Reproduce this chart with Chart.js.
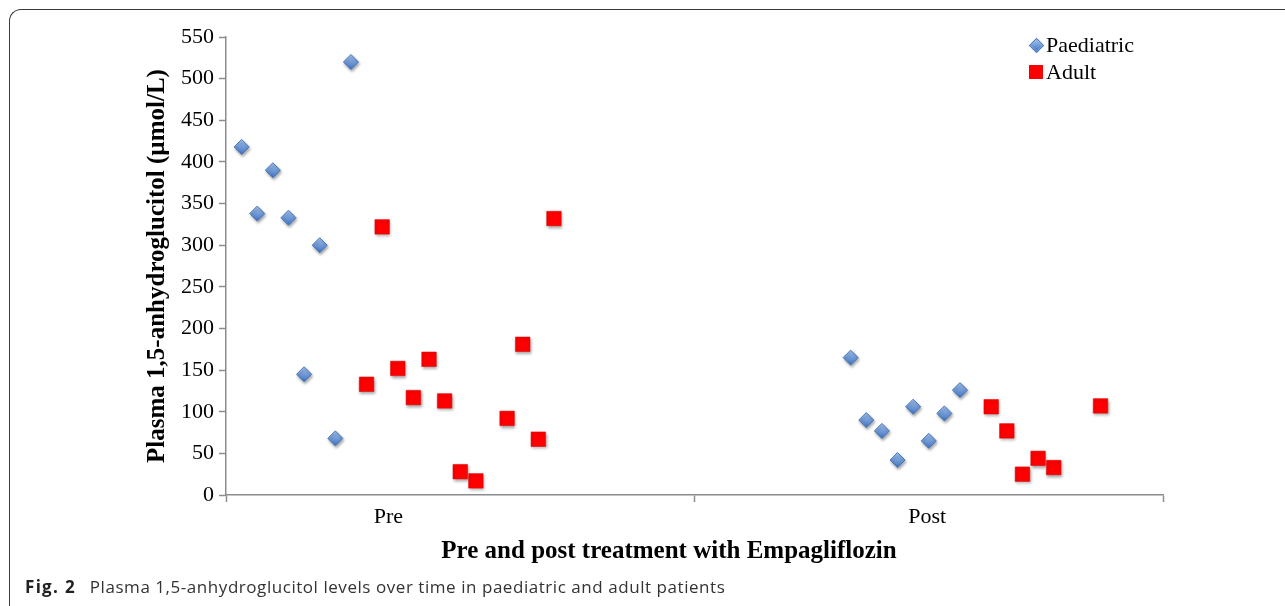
<!DOCTYPE html>
<html>
<head>
<meta charset="utf-8">
<script src="https://cdn.jsdelivr.net/npm/chart.js@4.4.0/dist/chart.umd.min.js"></script>
<style>
    body { margin: 0; background: #fff; overflow: hidden; }
    #wrap { position: relative; width: 1285px; height: 606px; overflow: hidden; }
    #frame {
        position: absolute; left: 9px; top: 9px; width: 1300px; height: 620px;
        border-top: 1px solid #3a3a3a; border-left: 1px solid #3a3a3a;
        border-top-left-radius: 12px;
    }
    #chart { position: absolute; left: 0; top: 0; }
    .serif { font-family: "Liberation Serif", "Times New Roman", serif; color: #000; }
    #xTitle {
        position: absolute; left: 669px; top: 535px; transform: translateX(-50%);
        font-size: 25px; font-weight: bold; line-height: 30px; white-space: nowrap;
    }
    .legend-text { position: absolute; left: 1046px; font-size: 22px; line-height: 26px; white-space: nowrap; }
    .legend-diamond {
        position: absolute; left: 1031px; top: 40px; width: 9px; height: 9px;
        transform: rotate(45deg);
        background: linear-gradient(135deg, #a3c4f0, #3f74c0);
        border: 1px solid #4677bf;
    }
    .legend-square { position: absolute; left: 1029px; top: 65px; width: 14px; height: 14px; background: #f00; }
    #caption {
        position: absolute; left: 25px; top: 576px; font-family: "Open Sans", sans-serif;
        font-size: 17px; letter-spacing: 0.55px; line-height: 22px; color: #333; white-space: nowrap;
    }
    #caption b { color: #222; letter-spacing: 1.3px; margin-right: 4px; }
</style>
</head>
<body>
<div id="wrap">
    <div id="frame"></div>
    <canvas id="chart" width="1285" height="606"></canvas>
    <div class="legend-diamond"></div>
    <div class="legend-text serif" style="top: 32px;">Paediatric</div>
    <div class="legend-square"></div>
    <div class="legend-text serif" style="top: 59px;">Adult</div>
    <div id="xTitle" class="serif">Pre and post treatment with Empagliflozin</div>
    <div id="caption"><b>Fig. 2</b>&nbsp; Plasma 1,5-anhydroglucitol levels over time in paediatric and adult patients</div>
</div>
<script>
// Data (x = patient slot on the axis, y = µmol/L)
const categories = ['Pre', 'Post'];
const categoryAt = [10.4, 44.9];
const sectionBounds = [0, 30, 60];
const yTicks = [0, 50, 100, 150, 200, 250, 300, 350, 400, 450, 500, 550];

const paedX = [1, 2, 3, 4, 5, 6, 7, 8, 40, 41, 42, 43, 44, 45, 46, 47];
const paedY = [418, 338, 390, 333, 145, 300, 68, 520, 165, 90, 77, 42, 106, 65, 98, 126];

const adultX = [9, 10, 11, 12, 13, 14, 15, 16, 18, 19, 20, 21, 49, 50, 51, 52, 53, 56];
const adultY = [133, 322, 152, 117, 163, 113, 28, 17, 92, 181, 67, 332, 106, 77, 25, 44, 33, 107];

const axisGrey = '#8c8c8c';
const serif = 'Liberation Serif';

const xTickValues = [...sectionBounds, ...categoryAt].sort((a, b) => a - b);

function labelFor(value) {
    const idx = categoryAt.findIndex(v => Math.abs(v - value) < 1e-6);
    return idx >= 0 ? categories[idx] : '';
}

// Blue diamonds get a light-to-dark vertical gradient
function diamondFill(ctx) {
    const chart = ctx.chart;
    const yScale = chart.scales && chart.scales.y;
    if (!ctx.raw || !yScale) return '#6d9de0';
    const yPix = yScale.getPixelForValue(ctx.raw.y);
    if (!isFinite(yPix)) return '#6d9de0';
    const g = chart.ctx.createLinearGradient(0, yPix - 8, 0, yPix + 8);
    g.addColorStop(0, '#a9c8f2');
    g.addColorStop(1, '#3c70bd');
    return g;
}

const markerShadow = {
    id: 'markerShadow',
    beforeDatasetsDraw(chart) {
        const c = chart.ctx;
        c.save();
        c.shadowColor = 'rgba(0, 0, 0, 0.35)';
        c.shadowBlur = 3;
        c.shadowOffsetX = 1;
        c.shadowOffsetY = 2;
    },
    afterDatasetsDraw(chart) {
        chart.ctx.restore();
    }
};

new Chart(document.getElementById('chart'), {
    type: 'scatter',
    data: {
        datasets: [{
            label: 'Paediatric',
            data: paedX.map((x, i) => ({ x, y: paedY[i] })),
            pointStyle: 'rectRot',
            pointRadius: 7.5,
            pointHoverRadius: 7.5,
            backgroundColor: diamondFill,
            borderColor: '#4677bf',
            borderWidth: 1
        }, {
            label: 'Adult',
            data: adultX.map((x, i) => ({ x, y: adultY[i] })),
            pointStyle: 'rect',
            pointRadius: 10.3,
            pointHoverRadius: 10.3,
            backgroundColor: '#ff0000',
            borderColor: '#e00000',
            borderWidth: 0.5
        }]
    },
    options: {
        responsive: false,
        animation: false,
        devicePixelRatio: 1,
        layout: {
            padding: { top: 37, right: 122, left: 0, bottom: 0 }
        },
        plugins: {
            legend: { display: false },
            tooltip: { enabled: false }
        },
        scales: {
            x: {
                type: 'linear',
                min: sectionBounds[0],
                max: sectionBounds[sectionBounds.length - 1],
                afterBuildTicks: scale => {
                    scale.ticks = xTickValues.map(v => ({ value: v }));
                },
                afterFit: scale => { scale.height = 606 - 495; },
                ticks: {
                    autoSkip: false,
                    maxRotation: 0,
                    padding: 2,
                    color: '#000',
                    font: { family: serif, size: 22 },
                    callback: value => labelFor(value)
                },
                grid: {
                    drawOnChartArea: false,
                    tickLength: 7,
                    tickWidth: 1.5,
                    tickColor: ctx => (ctx.tick && labelFor(ctx.tick.value)) ? 'rgba(0,0,0,0)' : axisGrey
                },
                border: { color: axisGrey, width: 1.5 }
            },
            y: {
                min: yTicks[0],
                max: yTicks[yTicks.length - 1],
                afterFit: scale => { scale.width = 226; },
                ticks: {
                    stepSize: yTicks[1] - yTicks[0],
                    padding: 5,
                    color: '#000',
                    font: { family: serif, size: 22 }
                },
                grid: {
                    drawOnChartArea: false,
                    tickLength: 7,
                    tickWidth: 1.5,
                    tickColor: axisGrey
                },
                border: { color: axisGrey, width: 1.5 },
                title: {
                    display: true,
                    text: 'Plasma 1,5-anhydroglucitol (µmol/L)',
                    color: '#000',
                    font: { family: serif, size: 25, weight: 'bold' },
                    padding: { top: 143, bottom: 0 }
                }
            }
        }
    },
    plugins: [markerShadow]
});
</script>
</body>
</html>
